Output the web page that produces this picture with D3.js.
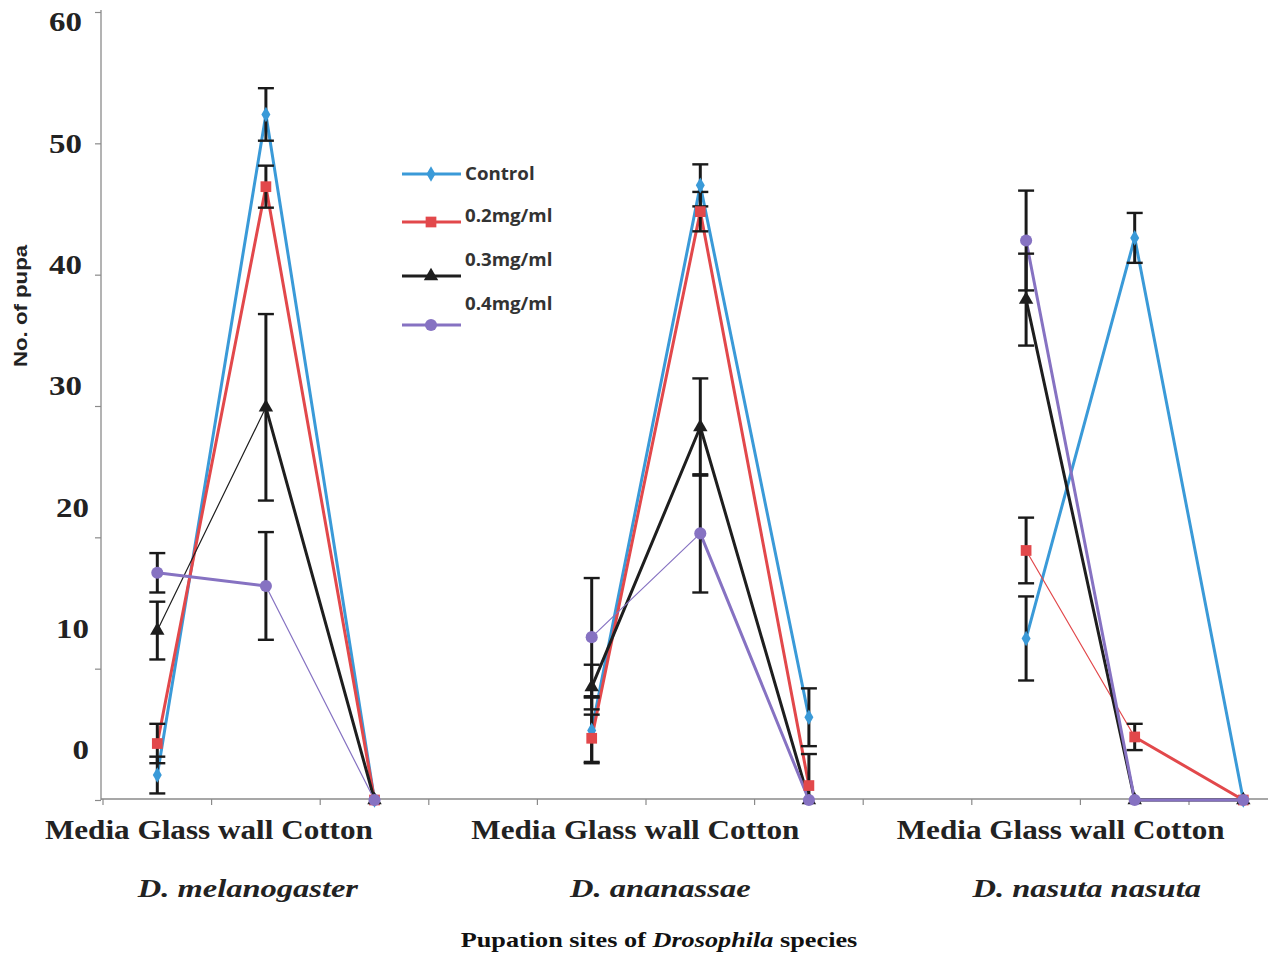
<!DOCTYPE html>
<html>
<head>
<meta charset="utf-8">
<script src="https://cdn.jsdelivr.net/npm/d3@7"></script>
<style>
  body { margin: 0; background: #fff; }
  svg { display: block; }
</style>
</head>
<body>
<svg id="chart" width="1270" height="955"></svg>
<script>
// categories
const species = ["D. melanogaster", "D. ananassae", "D. nasuta nasuta"];
const sites = ["Media", "Glass wall", "Cotton"];
const seriesNames = ["Control", "0.2mg/ml", "0.3mg/ml", "0.4mg/ml"];
const yTicks = [0, 10, 20, 30, 40, 50, 60];

// values, species by species: Media, Glass wall, Cotton
const control    = [1.9, 52.2, 0,   5.3, 46.8, 6.3,   12.3, 42.8, 0];
const controlErr = [1.4, 2.0, 0,    2.5, 1.6, 2.2,    3.2, 1.9, 0];
const c02        = [4.3, 46.7, 0,   4.7, 44.8, 1.1,   19.0, 4.8, 0];
const c02Err     = [1.5, 1.6, 0,    1.8, 1.5, 2.4,    2.5, 1.0, 0];
const c03        = [12.9, 29.9, 0,  8.6, 28.4, 0,     38.1, 0, 0];
const c03Err     = [2.2, 7.1, 0,    1.7, 3.7, 0,      3.5, 0, 0];
const c04        = [17.3, 16.3, 0,  12.4, 20.3, 0,    42.6, 0, 0];
const c04Err     = [1.5, 4.1, 0,    4.5, 4.5, 0,      3.8, 0, 0];

const colors = ["#3a9ad8", "#e2484b", "#1e1e1e", "#8672c2"];
const symbols = [d3.symbolDiamond, d3.symbolSquare, d3.symbolTriangle, d3.symbolCircle];
const symSize = [70, 115, 90, 115];
// segments that the original draws with a hairline (series|species|segment)
const thinSegs = ["2|0|0", "3|0|1", "3|1|0", "1|2|0"];

const series = [
  {vals: control, err: controlErr},
  {vals: c02, err: c02Err},
  {vals: c03, err: c03Err},
  {vals: c04, err: c04Err}
];

const serif = "'Liberation Serif', 'DejaVu Serif', serif";
const svg = d3.select("#chart");

// 11 slots along x, one empty slot between species
const slots = d3.range(11);
const x = d3.scaleBand().domain(slots).range([103, 103 + 11 * 108.6]).padding(0);
const slotOf = i => Math.floor(i / 3) * 4 + (i % 3);
const px = i => x(slotOf(i)) + x.bandwidth() / 2;

const y = d3.scaleLinear().domain([0, 60]).range([800, 12]);
// the tick labels sit on their own, slightly compressed, scale
const yLab = d3.scaleLinear().domain([0, 60]).range([750, 22]);

svg.append("defs").append("clipPath").attr("id", "plot")
  .append("rect").attr("x", 101).attr("y", 0).attr("width", 1170).attr("height", 799);

// y axis
const yAxis = svg.append("g")
    .attr("transform", "translate(101,0)")
    .call(d3.axisLeft(y).tickValues(yTicks).tickSize(6).tickFormat(""));
yAxis.select(".domain").attr("stroke", "#8a8a8a").attr("stroke-width", 1.3)
    .attr("d", "M0,10V800");
yAxis.selectAll(".tick line").attr("stroke", "#8a8a8a").attr("stroke-width", 1.2);

svg.append("g").selectAll("text")
    .data(yTicks)
    .enter().append("text")
    .attr("transform", d => `translate(${d < 30 ? 89 : 82},${yLab(d)}) scale(1.22,1)`)
    .attr("dy", "0.35em")
    .attr("text-anchor", "end")
    .style("font-family", serif)
    .style("font-weight", "bold")
    .style("font-size", "27px")
    .attr("fill", "#222")
    .text(d => d);

svg.append("text")
    .attr("transform", "translate(27,306) rotate(-90)")
    .attr("text-anchor", "middle")
    .attr("textLength", 122)
    .attr("lengthAdjust", "spacingAndGlyphs")
    .style("font-family", "'Liberation Sans', Arial, sans-serif")
    .style("font-weight", "bold")
    .style("font-size", "18px")
    .attr("fill", "#222")
    .text("No. of pupa");

// x axis
const xAxis = svg.append("g")
    .attr("transform", "translate(0,799)")
    .call(d3.axisBottom(x).tickSize(0).tickFormat(""));
xAxis.select(".domain").attr("stroke", "#8a8a8a").attr("stroke-width", 1.3)
    .attr("d", "M101,0H1268");
xAxis.selectAll(".tick").remove();
xAxis.selectAll(".bnd")
    .data(slots)
    .enter().append("line")
    .attr("x1", d => x(d)).attr("x2", d => x(d))
    .attr("y1", 0).attr("y2", 6)
    .attr("stroke", "#8a8a8a").attr("stroke-width", 1.2);

// category + species labels
const siteShift = [-57, -65, -74];
const specShift = [-18, -40, -48];
species.forEach((sp, g) => {
  const cx = x(g * 4 + 1) + x.bandwidth() / 2;
  svg.append("text")
      .attr("x", cx + siteShift[g])
      .attr("y", 839)
      .attr("text-anchor", "middle")
      .attr("textLength", 328)
      .attr("lengthAdjust", "spacingAndGlyphs")
      .style("font-family", serif)
      .style("font-weight", "bold")
      .style("font-size", "28px")
      .attr("fill", "#222")
      .text(sites.join(" "));
  svg.append("text")
      .attr("transform", `translate(${cx + specShift[g]},897) scale(1.25,1)`)
      .attr("text-anchor", "middle")
      .style("font-family", serif)
      .style("font-weight", "bold")
      .style("font-style", "italic")
      .style("font-size", "26px")
      .attr("fill", "#222")
      .text(sp);
});

const title = svg.append("text")
    .attr("transform", "translate(659,947) scale(1.25,1)")
    .attr("text-anchor", "middle")
    .style("font-family", serif)
    .style("font-weight", "bold")
    .style("font-size", "21px")
    .attr("fill", "#111");
title.append("tspan").text("Pupation sites of ");
title.append("tspan").style("font-style", "italic").text("Drosophila");
title.append("tspan").text(" species");

// lines, segment by segment
const lineG = svg.append("g");
series.forEach((s, k) => {
  species.forEach((sp, g) => {
    for (let j = 0; j < 2; j++) {
      const a = g * 3 + j, b = a + 1;
      const thin = thinSegs.includes(k + "|" + g + "|" + j);
      lineG.append("line")
          .attr("x1", px(a)).attr("y1", y(s.vals[a]))
          .attr("x2", px(b)).attr("y2", y(s.vals[b]))
          .attr("stroke", colors[k])
          .attr("stroke-width", thin ? 1.2 : 3)
          .attr("stroke-linecap", "round");
    }
  });
});

// error bars
const errG = svg.append("g").attr("clip-path", "url(#plot)");
series.forEach((s, k) => {
  s.vals.forEach((v, i) => {
    const e = s.err[i];
    if (!e) return;
    const cx = px(i);
    errG.append("line")
        .attr("x1", cx).attr("x2", cx)
        .attr("y1", y(v + e)).attr("y2", y(v - e))
        .attr("stroke", "#1a1a1a").attr("stroke-width", 3);
    [v + e, v - e].forEach(t => {
      errG.append("line")
          .attr("x1", cx - 8).attr("x2", cx + 8)
          .attr("y1", y(t)).attr("y2", y(t))
          .attr("stroke", "#1a1a1a").attr("stroke-width", 2.4);
    });
  });
});

// markers
const markG = svg.append("g");
series.forEach((s, k) => {
  markG.selectAll(".m" + k)
      .data(s.vals)
      .enter().append("path")
      .attr("transform", (d, i) => `translate(${px(i)},${y(d)})`)
      .attr("d", d3.symbol().type(symbols[k]).size(symSize[k]))
      .attr("fill", colors[k]);
});

// legend
const legY = [174, 222, 276, 325];
const legTxtY = [174, 216, 260, 304];
const leg = svg.append("g");
seriesNames.forEach((n, k) => {
  leg.append("line")
      .attr("x1", 402).attr("x2", 461)
      .attr("y1", legY[k]).attr("y2", legY[k])
      .attr("stroke", colors[k]).attr("stroke-width", 3);
  leg.append("path")
      .attr("transform", `translate(431,${legY[k]})`)
      .attr("d", d3.symbol().type(symbols[k]).size(symSize[k]))
      .attr("fill", colors[k]);
  leg.append("text")
      .attr("transform", `translate(465,${legTxtY[k]}) scale(1.1,1)`)
      .attr("dy", "0.35em")
      .style("font-family", "'Open Sans', 'DejaVu Sans', sans-serif")
      .style("font-weight", "bold")
      .style("font-size", "17px")
      .attr("fill", "#333")
      .text(n);
});
</script>
</body>
</html>
